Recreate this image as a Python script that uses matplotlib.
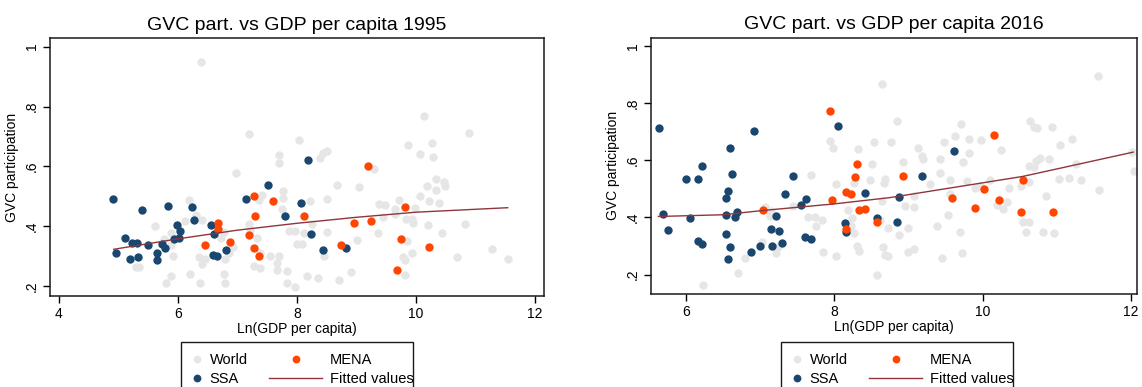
import numpy as np
import matplotlib.pyplot as plt
from matplotlib.lines import Line2D
from matplotlib.patches import Rectangle

plt.rcParams['font.family'] = ['Liberation Sans', 'DejaVu Sans']

# cores (paleta tipo Stata s2color)
c_world = '#e6e6e6'
c_ssa = '#1a476f'
c_mena = '#ff4500'
c_fit = '#90353b'

# ---------------- 1995 ----------------
world95_x = [7.19, 8.03, 7.69, 7.70, 6.97, 7.76, 7.77, 7.36, 7.41, 7.74, 6.19, 6.30, 6.40, 6.12,
             5.62, 5.89, 5.77, 5.88, 5.92, 5.35, 5.30, 5.89, 5.80, 6.20, 6.37, 6.78, 6.79, 6.36,
             6.45, 6.41, 6.79, 6.85, 6.93, 6.72, 6.77, 7.27, 7.37, 7.32, 7.37, 7.19, 7.21, 7.55,
             7.70, 7.66, 7.67, 7.84, 7.84, 7.96, 7.86, 7.97, 8.00, 6.39,
             10.13, 10.89, 9.87, 10.26, 10.07, 10.29, 8.38, 8.43, 8.50, 9.29, 8.68, 9.04, 8.50,
             8.22, 10.33, 10.47, 10.48, 10.33, 10.18, 10.06, 10.21, 10.38, 9.71, 9.38, 9.48,
             9.65, 9.99, 9.65, 9.83, 9.94, 9.95, 9.45, 10.20, 10.83, 10.44, 9.36, 9.85, 9.93,
             9.78, 9.82, 10.69, 11.28, 11.55, 9.81, 8.91, 8.71, 8.36, 8.17, 9.01, 8.51, 8.09,
             8.45, 8.26, 8.11]
world95_y = [0.707, 0.687, 0.637, 0.611, 0.578, 0.518, 0.494, 0.487, 0.505, 0.457, 0.487, 0.436,
             0.420, 0.419, 0.402, 0.376, 0.356, 0.339, 0.300, 0.264, 0.264, 0.233, 0.211, 0.242,
             0.211, 0.242, 0.209, 0.298, 0.289, 0.273, 0.292, 0.311, 0.331, 0.362, 0.381, 0.267,
             0.262, 0.362, 0.309, 0.409, 0.387, 0.300, 0.300, 0.278, 0.253, 0.251, 0.211, 0.196,
             0.383, 0.383, 0.340, 0.950,
             0.768, 0.713, 0.672, 0.678, 0.642, 0.631, 0.629, 0.644, 0.651, 0.592, 0.539, 0.531,
             0.490, 0.484, 0.557, 0.549, 0.536, 0.522, 0.533, 0.501, 0.484, 0.479, 0.489, 0.476,
             0.470, 0.459, 0.462, 0.440, 0.423, 0.423, 0.412, 0.430, 0.403, 0.408, 0.378, 0.378,
             0.352, 0.310, 0.298, 0.286, 0.298, 0.323, 0.289, 0.236, 0.248, 0.219, 0.226, 0.235,
             0.353, 0.381, 0.342, 0.301, 0.407, 0.378]

ssa95_x = [4.91, 4.96, 5.11, 5.20, 5.22, 5.31, 5.33, 5.40, 5.49, 5.64, 5.64, 5.74, 5.79, 5.84,
           5.94, 5.99, 6.01, 6.04, 6.24, 6.27, 6.55, 6.60, 6.59, 6.65, 6.81, 7.14, 7.51, 7.80,
           8.07, 8.19, 8.24, 8.43, 8.82]
ssa95_y = [0.492, 0.309, 0.362, 0.289, 0.344, 0.344, 0.297, 0.456, 0.338, 0.309, 0.287, 0.342,
           0.329, 0.468, 0.358, 0.403, 0.360, 0.383, 0.463, 0.422, 0.403, 0.374, 0.305, 0.301,
           0.322, 0.490, 0.537, 0.434, 0.479, 0.622, 0.374, 0.322, 0.327]

mena95_x = [7.28, 7.59, 7.30, 6.67, 6.68, 6.46, 6.87, 7.19, 7.27, 7.36,
            8.11, 9.20, 8.95, 9.25, 9.82, 9.74, 8.74, 10.22, 9.68]
mena95_y = [0.500, 0.486, 0.434, 0.412, 0.390, 0.338, 0.347, 0.370, 0.326, 0.300,
            0.434, 0.603, 0.412, 0.416, 0.464, 0.358, 0.338, 0.331, 0.253]

fit95_x = [4.92, 6.0, 7.0, 8.0, 9.0, 10.0, 11.54]
fit95_y = [0.323, 0.358, 0.387, 0.410, 0.430, 0.447, 0.462]

# ---------------- 2016 ----------------
world16_x = [8.84, 8.54, 8.76, 7.94, 7.98, 8.32, 8.51, 7.69, 8.03, 8.26, 8.48, 8.68, 8.67, 8.64,
             8.18, 8.24, 8.23, 8.26, 8.30, 8.33, 8.03, 7.85, 7.76, 7.65, 7.74, 7.83, 7.45, 7.14,
             7.15, 7.06, 7.21, 7.24, 7.03, 6.80, 6.70, 6.23, 8.58, 8.66, 8.68, 8.72, 8.73, 8.87,
             8.62, 8.65,
             11.55, 10.64, 10.69, 10.73, 10.94, 9.71, 9.48, 9.63, 9.82, 9.98, 10.25, 9.81, 9.13,
             9.18, 9.19, 8.92, 9.43, 9.73, 11.20, 11.04, 10.90, 10.77, 10.72, 10.63, 10.69,
             11.26, 11.03, 11.16, 11.32, 11.57, 12.01, 12.04, 9.42, 9.29, 9.56, 9.79, 10.10,
             9.90, 9.97, 10.36, 10.52, 10.62, 10.85, 9.07, 8.95, 9.07, 9.56, 10.19, 10.28,
             10.33, 9.53, 9.00, 9.39, 9.69, 10.54, 10.63, 10.59, 10.81, 10.96, 8.99, 9.07,
             9.45, 9.72]
world16_y = [0.738, 0.665, 0.664, 0.667, 0.643, 0.640, 0.587, 0.547, 0.518, 0.519, 0.530, 0.535,
             0.519, 0.458, 0.426, 0.399, 0.371, 0.345, 0.301, 0.284, 0.265, 0.278, 0.368, 0.401,
             0.401, 0.390, 0.438, 0.405, 0.422, 0.436, 0.275, 0.296, 0.313, 0.257, 0.207, 0.162,
             0.197, 0.298, 0.269, 0.266, 0.362, 0.339, 0.391, 0.867,
             0.895, 0.738, 0.717, 0.712, 0.717, 0.727, 0.663, 0.684, 0.673, 0.669, 0.636, 0.624,
             0.642, 0.613, 0.604, 0.592, 0.605, 0.592, 0.674, 0.653, 0.604, 0.608, 0.598, 0.578,
             0.576, 0.587, 0.534, 0.536, 0.531, 0.496, 0.628, 0.562, 0.555, 0.515, 0.530, 0.527,
             0.530, 0.502, 0.508, 0.503, 0.508, 0.522, 0.473, 0.475, 0.440, 0.437, 0.481, 0.444,
             0.430, 0.453, 0.409, 0.363, 0.371, 0.349, 0.383, 0.385, 0.349, 0.349, 0.346, 0.280,
             0.289, 0.257, 0.277]

ssa16_x = [5.64, 5.69, 5.76, 6.00, 6.06, 6.16, 6.22, 6.17, 6.22, 6.59, 6.62, 6.57, 6.54, 6.54,
           6.69, 6.66, 6.54, 6.60, 6.57, 6.92, 6.88, 7.00, 7.16, 7.15, 7.22, 7.25, 7.29, 7.34,
           7.44, 7.55, 7.62, 7.60, 7.68, 8.05, 8.14, 8.16, 8.42, 8.57, 8.87, 8.85, 9.62, 9.18]
ssa16_y = [0.714, 0.410, 0.355, 0.533, 0.398, 0.533, 0.578, 0.318, 0.307, 0.641, 0.553, 0.492,
           0.469, 0.409, 0.419, 0.402, 0.341, 0.298, 0.254, 0.703, 0.280, 0.301, 0.301, 0.359,
           0.403, 0.352, 0.311, 0.483, 0.546, 0.443, 0.465, 0.333, 0.324, 0.721, 0.381, 0.348,
           0.485, 0.399, 0.471, 0.382, 0.631, 0.545]

mena16_x = [7.94, 7.04, 7.97, 8.30, 8.28, 8.16, 8.22, 8.34, 8.42, 8.57, 8.16,
            8.93, 10.15, 10.54, 10.02, 9.58, 10.22, 9.89, 10.52, 10.95]
mena16_y = [0.772, 0.426, 0.460, 0.585, 0.542, 0.488, 0.482, 0.426, 0.429, 0.385, 0.359,
            0.545, 0.688, 0.531, 0.500, 0.466, 0.462, 0.431, 0.419, 0.419]

fit16_x = [5.63, 6.5, 7.04, 8.0, 8.75, 9.5, 10.54, 12.03]
fit16_y = [0.403, 0.409, 0.424, 0.447, 0.469, 0.500, 0.543, 0.628]

W, H = 1142, 387
fig = plt.figure(figsize=(W / 100, H / 100), dpi=100)


def painel(rect, titulo, wx, wy, sx, sy, mx, my, fx, fy, xlim, ylim, xticks):
    ax = fig.add_axes(rect)
    ax.scatter(wx, wy, s=36, color=c_world, linewidths=0, zorder=2)
    ax.scatter(sx, sy, s=36, color=c_ssa, linewidths=0, zorder=3)
    ax.scatter(mx, my, s=36, color=c_mena, linewidths=0, zorder=3)
    ax.plot(fx, fy, color=c_fit, lw=1.0, zorder=4)
    ax.set_xlim(*xlim)
    ax.set_ylim(*ylim)
    ax.set_xticks(xticks)
    ax.set_yticks([0.2, 0.4, 0.6, 0.8, 1.0])
    ax.set_yticklabels(['.2', '.4', '.6', '.8', '1'], rotation=90, va='center')
    ax.tick_params(direction='out', length=5, width=1, labelsize=10, pad=3)
    for sp in ax.spines.values():
        sp.set_linewidth(1.1)
        sp.set_color('#1a1a1a')
    ax.set_title(titulo, fontsize=14, pad=6)
    ax.set_xlabel('Ln(GDP per capita)', fontsize=10, labelpad=1)
    ax.set_ylabel('GVC participation', fontsize=10, labelpad=4)
    return ax


def legenda(x0):
    # moldura da legenda (cortada na borda inferior da figura)
    fig.patches.append(Rectangle((x0 / W, -0.02), 232 / W, 1 - 342 / H + 0.02,
                                 transform=fig.transFigure, fill=False, lw=1.0,
                                 edgecolor='#1a1a1a'))
    h1 = [Line2D([], [], ls='none', marker='o', ms=5.6, color=c_world, mew=0),
          Line2D([], [], ls='none', marker='o', ms=5.6, color=c_ssa, mew=0)]
    h2 = [Line2D([], [], ls='none', marker='o', ms=5.6, color=c_mena, mew=0),
          Line2D([], [], color=c_fit, lw=1.0)]
    fig.legend(h1, ['World', 'SSA'], loc='upper left', frameon=False,
               bbox_to_anchor=((x0 + 1) / W, 1 - 346 / H), borderpad=0,
               handlelength=1.0, handletextpad=0.4, labelspacing=0.35, fontsize=10.5)
    fig.legend(h2, ['MENA', 'Fitted values'], loc='upper left', frameon=False,
               bbox_to_anchor=((x0 + 81) / W, 1 - 346 / H), borderpad=0,
               handlelength=3.6, handletextpad=0.55, labelspacing=0.35, fontsize=10.5)


painel([50 / W, 1 - 296 / H, 494 / W, 258 / H], 'GVC part. vs GDP per capita 1995',
       world95_x, world95_y, ssa95_x, ssa95_y, mena95_x, mena95_y, fit95_x, fit95_y,
       (3.85, 12.15), (0.167, 1.029), [4, 6, 8, 10, 12])
painel([651 / W, 1 - 294 / H, 486 / W, 256.3 / H], 'GVC part. vs GDP per capita 2016',
       world16_x, world16_y, ssa16_x, ssa16_y, mena16_x, mena16_y, fit16_x, fit16_y,
       (5.53, 12.08), (0.132, 1.028), [6, 8, 10, 12])

legenda(181)
legenda(781)

fig.savefig('out.png', dpi=100)
